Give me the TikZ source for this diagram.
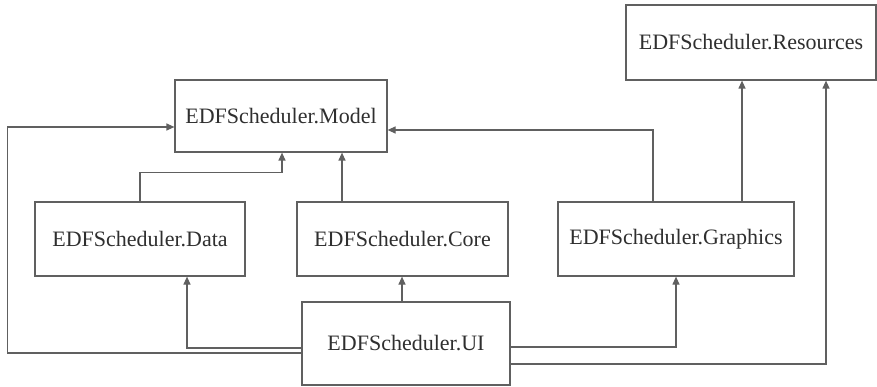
\documentclass[tikz,border=0pt]{standalone}
\usepackage{fontspec}
\setmainfont{Liberation Serif}
\usepackage{xcolor}
\usetikzlibrary{arrows.meta}

\definecolor{linegray}{HTML}{606060}
\definecolor{textgray}{HTML}{2F2F2F}

\begin{document}
\begin{tikzpicture}[x=1pt, y=-1pt,
    box/.style={rectangle, draw=linegray, line width=1.2pt, fill=white, text=textgray, font=\fontsize{22}{26}\selectfont, inner sep=0pt},
    dep/.style={draw=linegray, line width=1.2pt, -{Triangle[length=8pt, width=7pt]}}]
          \useasboundingbox (0,0) rectangle (877,387);

          % Define modules
          \node[box, minimum width=212pt, minimum height=72pt] (model) at (281,116) {EDFScheduler.Model};
          \node[box, minimum width=250pt, minimum height=75pt] (res) at (751,42.5) {EDFScheduler.Resources};
          \node[box, minimum width=210pt, minimum height=74pt] (data) at (140,239) {EDFScheduler.Data};
          \node[box, minimum width=211pt, minimum height=74pt] (core) at (402.5,239) {EDFScheduler.Core};
          \node[box, minimum width=236pt, minimum height=74pt] (graphics) at (676,239) {EDFScheduler.Graphics};
          \node[box, minimum width=208pt, minimum height=83pt] (ui) at (406,343.5) {EDFScheduler.UI};

          % Draw dependencies
          \draw[dep] (data.north) -- ++(0,-29) -| ([xshift=1pt]model.south);
          \draw[dep] ([xshift=-60.5pt]core.north) -- ([xshift=61pt]model.south);
          \draw[dep] ([xshift=-23pt]graphics.north) |- ([yshift=-14pt]model.east);
          \draw[dep] ([xshift=66pt]graphics.north) -- ([xshift=-9pt]res.south);

          \draw[dep] ([xshift=-4pt]ui.north) -- ([xshift=-0.5pt]core.south);
          \draw[dep] ([yshift=-4.5pt]ui.west) -| ([xshift=47pt]data.south);
          \draw[dep] ([yshift=-9.5pt]ui.west) -- ++(-294,0) |- ([yshift=-11pt]model.west);
          \draw[dep] ([yshift=-3.5pt]ui.east) -| (graphics.south);
          \draw[dep] ([yshift=-20.5pt]ui.east) -| ([xshift=75pt]res.south);
        \end{tikzpicture}
\end{document}
